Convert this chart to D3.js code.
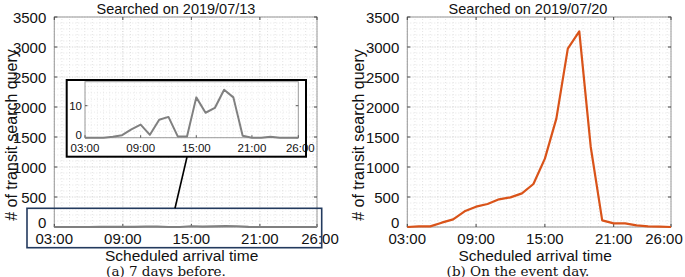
<!DOCTYPE html>
<html><head><meta charset="utf-8">
<script src="https://cdn.jsdelivr.net/npm/d3@7"></script>
<style>body{margin:0;background:#fff}svg{display:block}text{font-family:"Liberation Sans",Arial,sans-serif}</style>
</head><body>
<script>
const hours = [3,4,5,6,7,8,9,10,11,12,13,14,15,16,17,18,19,20,21,22,23,24,25,26];
const before = [0,0,0,0.3,0.8,2.6,4.1,0.9,5.6,6.5,0.4,0.4,12.6,7.8,9.3,15,12.6,0.6,0,0,0.3,0,0,0];
const eventDay = [0,10,10,72,128,261,339,383,461,494,561,717,1139,1806,2974,3260,1334,111,61,61,28,11,5,0];
const xTicks = [3,9,15,21,26];
const xTickLabels = ["03:00","09:00","15:00","21:00","26:00"];
const yTicks = [0,500,1000,1500,2000,2500,3000,3500];
const insetYTicks = [0,10];
const titles = ["Searched on 2019/07/13","Searched on 2019/07/20"];
const captions = ["(a)  7 days before.","(b)  On the event day."];
const yLabel = "# of transit search query";
const xLabel = "Scheduled arrival time";

const W=685,H=277;
const svg=d3.select("body").append("svg").attr("width",W).attr("height",H);

function panel(x0,x1,data,color,title,caption,titleX,capX,ylabX,lastDx){
  const x=d3.scaleLinear().domain([3,26]).range([x0,x1]);
  const y=d3.scaleLinear().domain([0,3500]).range([227,17]);
  const g=svg.append("g");
  const minorX=d3.range(3,26.001,2/3);
  g.selectAll(".mx").data(minorX).join("line").attr("x1",d=>x(d)).attr("x2",d=>x(d)).attr("y1",y(0)).attr("y2",y(3500))
    .attr("stroke","#d4d4d4").attr("stroke-width",0.6).attr("stroke-dasharray","1,2");
  g.selectAll(".my").data(d3.range(0,3501,100)).join("line").attr("y1",d=>y(d)).attr("y2",d=>y(d)).attr("x1",x0).attr("x2",x1)
    .attr("stroke","#d4d4d4").attr("stroke-width",0.6).attr("stroke-dasharray","1,2");
  g.selectAll(".Mx").data(xTicks).join("line").attr("x1",d=>x(d)).attr("x2",d=>x(d)).attr("y1",y(0)).attr("y2",y(3500))
    .attr("stroke","#cfcfcf").attr("stroke-width",0.7).attr("stroke-dasharray","1,1.5");
  g.selectAll(".My").data(yTicks).join("line").attr("y1",d=>y(d)).attr("y2",d=>y(d)).attr("x1",x0).attr("x2",x1)
    .attr("stroke","#cfcfcf").attr("stroke-width",0.7).attr("stroke-dasharray","1,1.5");
  g.append("rect").attr("x",x0).attr("y",y(3500)).attr("width",x1-x0).attr("height",y(0)-y(3500))
    .attr("fill","none").attr("stroke","#9a9a9a").attr("stroke-width",1);
  g.selectAll(".tx").data(xTicks).join("line").attr("x1",d=>x(d)).attr("x2",d=>x(d)).attr("y1",y(0)).attr("y2",y(0)-3).attr("stroke","#444");
  g.selectAll(".tx2").data(xTicks).join("line").attr("x1",d=>x(d)).attr("x2",d=>x(d)).attr("y1",y(3500)).attr("y2",y(3500)+3).attr("stroke","#444");
  g.selectAll(".ty").data(yTicks).join("line").attr("y1",d=>y(d)).attr("y2",d=>y(d)).attr("x1",x0).attr("x2",x0+3).attr("stroke","#444");
  g.selectAll(".ty2").data(yTicks).join("line").attr("y1",d=>y(d)).attr("y2",d=>y(d)).attr("x1",x1).attr("x2",x1-3).attr("stroke","#444");
  g.selectAll(".lx").data(xTicks).join("text").attr("x",(d,i)=>x(d)+(i===4?lastDx:0)).attr("y",243.5).attr("text-anchor","middle")
    .attr("font-size",15).attr("fill","#111").text((d,i)=>xTickLabels[i]);
  g.selectAll(".ly").data(yTicks).join("text").attr("x",x0-8).attr("y",d=>y(d)+(d===0?1:5.5)).attr("text-anchor","end")
    .attr("font-size",15).attr("fill","#111").text(d=>d);
  const line=d3.line().x((d,i)=>x(hours[i])).y(d=>y(d));
  g.append("path").datum(data).attr("d",line).attr("fill","none").attr("stroke",color).attr("stroke-width",2.2).attr("stroke-linejoin","round");
  g.append("text").attr("x",titleX).attr("y",13.5).attr("text-anchor","middle").attr("font-size",14.5).attr("fill","#111").text(title);
  g.append("text").attr("transform",`translate(${ylabX},135) rotate(-90)`).attr("text-anchor","middle").attr("font-size",16).attr("fill","#111").text(yLabel);
  g.append("text").attr("x",(x0+x1)/2-4).attr("y",261).attr("text-anchor","middle").attr("font-size",15.5).attr("fill","#111").text(xLabel);
  g.append("text").attr("x",capX).attr("y",275.5).attr("text-anchor","middle").attr("font-size",13.5)
    .style("font-family","'DejaVu Serif','Liberation Serif',serif").attr("fill","#111").text(caption);
  return {x,y};
}

panel(54.3,317,before,"#808080",titles[0],captions[0],176,166,17,3);
panel(407.3,671,eventDay,"#D95319",titles[1],captions[1],528,518,364,-7);

svg.append("rect").attr("x",27).attr("y",208.3).attr("width",294.7).attr("height",39.4)
  .attr("fill","none").attr("stroke","#233a5e").attr("stroke-width",1.6);
svg.append("line").attr("x1",187).attr("y1",157).attr("x2",175).attr("y2",208.3).attr("stroke","#000").attr("stroke-width",1.6);
const ix=d3.scaleLinear().domain([3,26]).range([85,298.3]);
const iy=d3.scaleLinear().domain([0,17.5]).range([137.7,81.7]);
const ig=svg.append("g");
ig.append("rect").attr("x",66.7).attr("y",80).attr("width",239.3).attr("height",76.7).attr("fill","#fff").attr("stroke","none");
ig.selectAll(".imx").data(d3.range(3,26.001,2/3)).join("line").attr("x1",d=>ix(d)).attr("x2",d=>ix(d)).attr("y1",iy(0)).attr("y2",iy(17.5))
  .attr("stroke","#dcdcdc").attr("stroke-width",0.6).attr("stroke-dasharray","1,2");
ig.selectAll(".imy").data(d3.range(0,17.5,2)).join("line").attr("y1",d=>iy(d)).attr("y2",d=>iy(d)).attr("x1",ix(3)).attr("x2",ix(26))
  .attr("stroke","#dcdcdc").attr("stroke-width",0.6).attr("stroke-dasharray","1,2");
ig.append("rect").attr("x",ix(3)).attr("y",iy(17.5)).attr("width",ix(26)-ix(3)).attr("height",iy(0)-iy(17.5))
  .attr("fill","none").attr("stroke","#9a9a9a").attr("stroke-width",1);
ig.selectAll(".itx").data(xTicks).join("line").attr("x1",d=>ix(d)).attr("x2",d=>ix(d)).attr("y1",iy(0)).attr("y2",iy(0)-2.5).attr("stroke","#555");
ig.selectAll(".ity").data(insetYTicks).join("line").attr("y1",d=>iy(d)).attr("y2",d=>iy(d)).attr("x1",ix(3)).attr("x2",ix(3)+2.5).attr("stroke","#555");
ig.selectAll(".ity2").data(insetYTicks).join("line").attr("y1",d=>iy(d)).attr("y2",d=>iy(d)).attr("x1",ix(26)).attr("x2",ix(26)-2.5).attr("stroke","#555");
ig.selectAll(".ilx").data(xTicks).join("text").attr("x",(d,i)=>ix(d)+(i===4?2:0)).attr("y",152).attr("text-anchor","middle")
  .attr("font-size",11.5).attr("fill","#111").text((d,i)=>xTickLabels[i]);
ig.selectAll(".ily").data(insetYTicks).join("text").attr("x",ix(3)-3).attr("y",d=>iy(d)+(d===0?1:4)).attr("text-anchor","end")
  .attr("font-size",11.5).attr("fill","#111").text(d=>d);
ig.append("path").datum(before).attr("d",d3.line().x((d,i)=>ix(hours[i])).y(d=>iy(d)))
  .attr("fill","none").attr("stroke","#808080").attr("stroke-width",2).attr("stroke-linejoin","round");
ig.append("rect").attr("x",66.7).attr("y",80).attr("width",239.3).attr("height",76.7).attr("fill","none").attr("stroke","#000").attr("stroke-width",2);
</script>
</body></html>
